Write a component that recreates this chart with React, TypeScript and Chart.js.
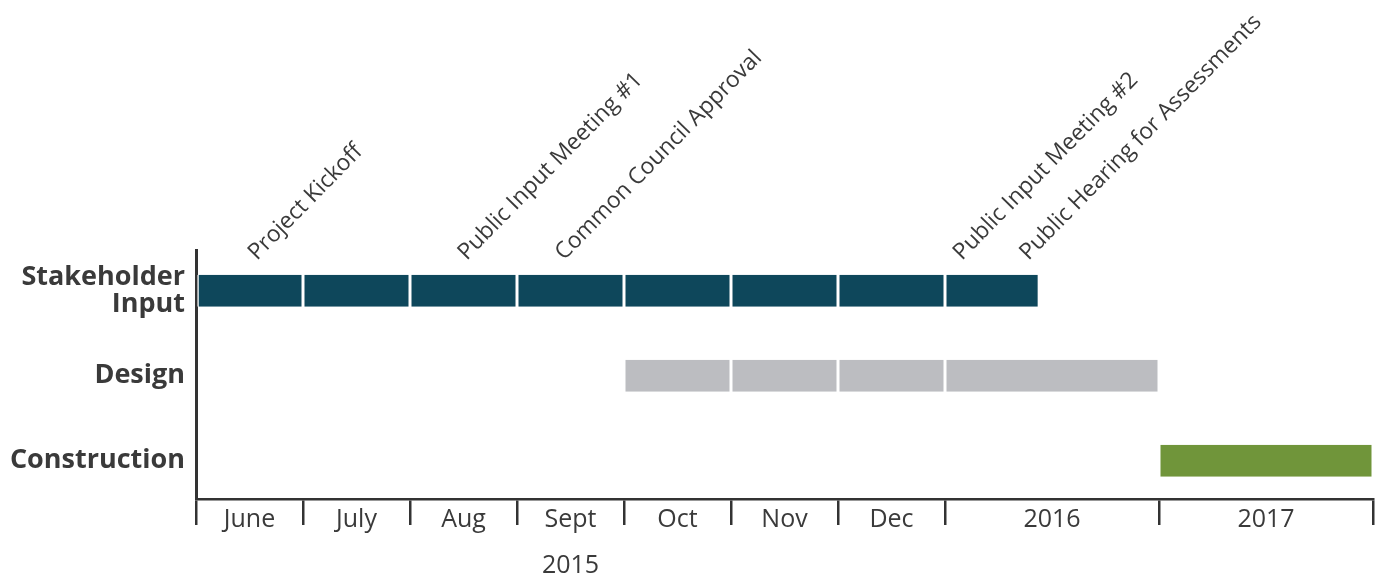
import React, { useEffect, useRef } from 'react';
import { Chart, registerables } from 'chart.js';

Chart.register(...registerables);

// ---- Data ----
const categories = ['Stakeholder Input', 'Design', 'Construction'];
const periodLabels = ['June', 'July', 'Aug', 'Sept', 'Oct', 'Nov', 'Dec', '2016', '2017'];
const periodBounds = [0, 1, 2, 3, 4, 5, 6, 7, 9, 11];
const yearGroupLabel = '2015';
const yearGroupSpan = [0, 7];

const stakeholderSpans = [[0, 1], [1, 2], [2, 3], [3, 4], [4, 5], [5, 6], [6, 7], [7, 7.88]];
const designSpans = [[4, 5], [5, 6], [6, 7], [7, 9]];
const constructionSpans = [[9, 11]];

const milestoneLabels = [
  'Project Kickoff',
  'Public Input Meeting #1',
  'Common Council Approval',
  'Public Input Meeting #2',
  'Public Hearing for Assessments',
];
const milestoneValues = [0.57, 2.53, 3.44, 7.16, 7.78];

// ---- Styles ----
const TEXT = '#3a3a3a';
const AXIS = '#333333';
const FONT = '"Open Sans", "DejaVu Sans", sans-serif';

const periodCenters = periodLabels.map((_, i) => (periodBounds[i] + periodBounds[i + 1]) / 2);
const rowIndices = categories.map((_, i) => i);

const timelineText = {
  id: 'timelineText',
  afterDraw(chart: any) {
    const { ctx } = chart;
    const x = chart.scales.x;
    const y = chart.scales.y;
    ctx.save();
    ctx.fillStyle = TEXT;
    ctx.font = `22.8px ${FONT}`;
    ctx.textAlign = 'left';
    ctx.textBaseline = 'alphabetic';
    milestoneValues.forEach((v, i) => {
      ctx.save();
      ctx.translate(x.getPixelForValue(v), y.top + 11);
      ctx.rotate((-45.5 * Math.PI) / 180);
      ctx.fillText(milestoneLabels[i], 0, 0);
      ctx.restore();
    });
    ctx.font = `25px ${FONT}`;
    ctx.textAlign = 'center';
    ctx.textBaseline = 'middle';
    const cx = x.getPixelForValue((yearGroupSpan[0] + yearGroupSpan[1]) / 2);
    ctx.fillText(yearGroupLabel, cx, x.top + 67);
    ctx.restore();
  },
};

function spansToData(spans: number[][], row: number) {
  return spans.map((s) => ({ x: s, y: row }));
}

export default function App() {
  const ref = useRef<HTMLCanvasElement>(null);

  useEffect(() => {
    if (!ref.current) return;
    const barCommon = {
      grouped: false,
      barThickness: 32,
      borderColor: '#ffffff',
      borderWidth: { left: 1.5, right: 1.5, top: 0, bottom: 0 },
      borderSkipped: false,
      inflateAmount: 0,
    };
    const chart = new Chart(ref.current, {
      type: 'bar',
      data: {
        datasets: [
          { label: 'Stakeholder Input', data: spansToData(stakeholderSpans, 0), backgroundColor: '#0e475b', ...barCommon },
          { label: 'Design', data: spansToData(designSpans, 1), backgroundColor: '#bcbdc1', ...barCommon },
          { label: 'Construction', data: spansToData(constructionSpans, 2), backgroundColor: '#70953a', ...barCommon },
        ] as any,
      },
      options: {
        indexAxis: 'y',
        animation: false,
        responsive: false,
        layout: { padding: { top: 250, right: 6, left: 0, bottom: 0 } },
        plugins: { legend: { display: false }, tooltip: { enabled: false } },
        scales: {
          x: {
            type: 'linear',
            min: 0,
            max: 11,
            offset: false,
            afterBuildTicks: (scale: any) => {
              const vals = [...periodBounds, ...periodCenters].sort((a, b) => a - b);
              scale.ticks = vals.map((v) => ({ value: v }));
            },
            afterFit: (scale: any) => {
              scale.height = 79;
            },
            ticks: {
              autoSkip: false,
              maxRotation: 0,
              minRotation: 0,
              padding: -20,
              color: TEXT,
              font: { family: FONT, size: 25 },
              callback: (value: any) => {
                const i = periodCenters.indexOf(Number(value));
                return i >= 0 ? periodLabels[i] : '';
              },
            },
            grid: {
              display: true,
              offset: false,
              drawOnChartArea: false,
              drawTicks: true,
              tickLength: 26,
              lineWidth: 2.5,
              color: (ctx: any) =>
                ctx.tick && periodBounds.includes(ctx.tick.value) ? AXIS : 'rgba(0,0,0,0)',
            },
            border: { display: true, color: AXIS, width: 2.5 },
          },
          y: {
            type: 'linear',
            reverse: true,
            offset: false,
            min: -0.48,
            max: 2.45,
            z: 1,
            afterBuildTicks: (scale: any) => {
              scale.ticks = rowIndices.map((v) => ({ value: v }));
            },
            afterFit: (scale: any) => {
              scale.width = 196;
            },
            ticks: {
              autoSkip: false,
              padding: 11,
              color: TEXT,
              font: { family: FONT, size: 27, weight: 'bold', lineHeight: 1.0 },
              callback: (value: any) => {
                const label = categories[Number(value)];
                if (label === undefined) return '';
                const parts = label.split(' ');
                return parts.length > 1 ? parts : label;
              },
            },
            grid: { display: false, drawTicks: false, offset: false },
            border: { display: true, color: AXIS, width: 3 },
          },
        },
      } as any,
      plugins: [timelineText],
    });
    return () => chart.destroy();
  }, []);

  return (
    <div style={{ position: 'fixed', left: 0, top: 0, width: 1379, height: 578, background: '#fff' }}>
      <canvas ref={ref} width={1379} height={578} style={{ display: 'block' }} />
    </div>
  );
}
